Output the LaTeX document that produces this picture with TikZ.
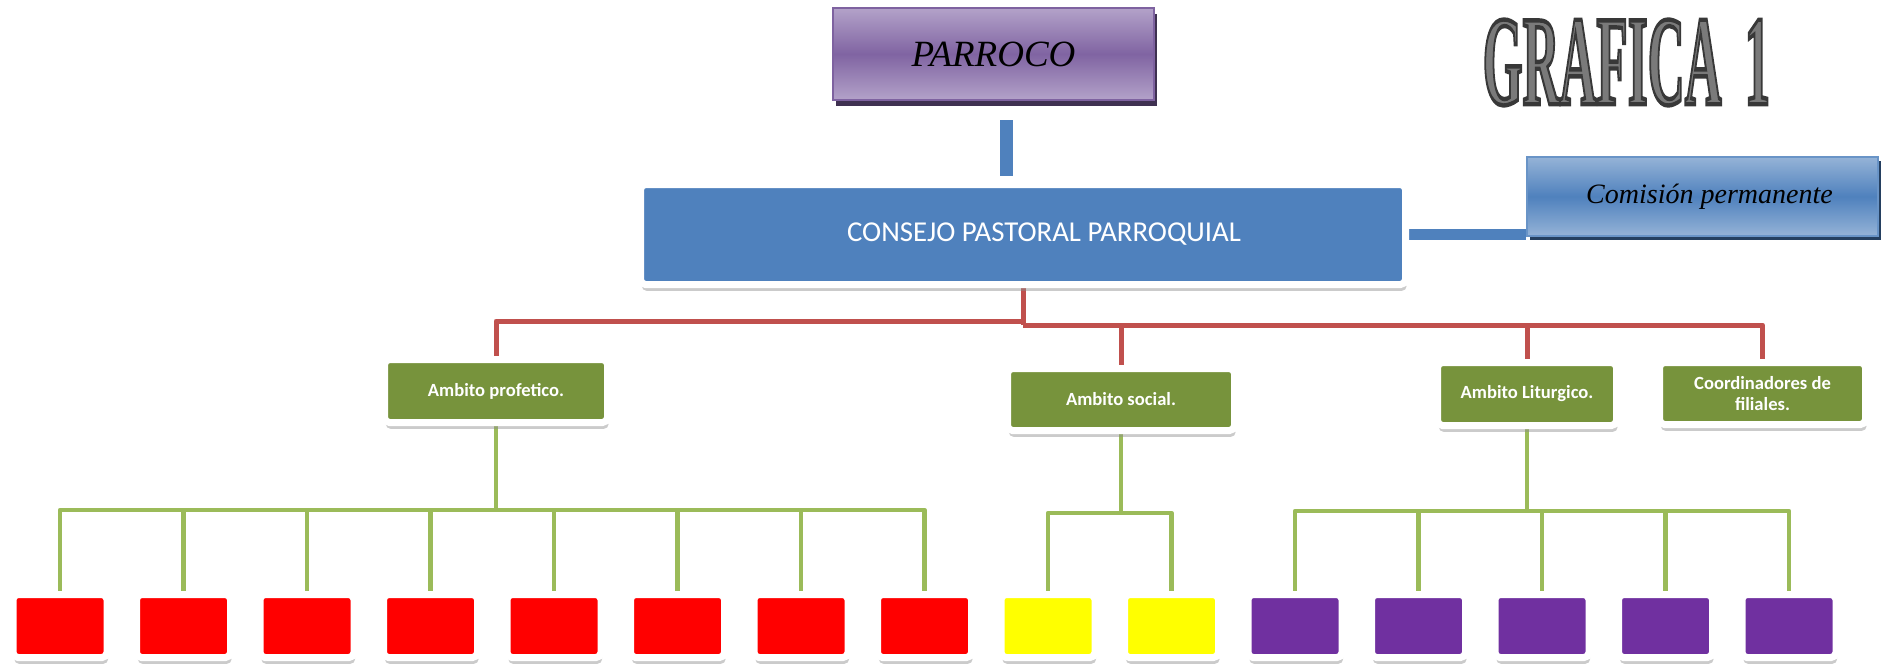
\documentclass[tikz,border=0pt]{standalone}
\usepackage{fontspec}
\setmainfont{Liberation Serif}
\newfontfamily\calib{Carlito}
\usetikzlibrary{shadows,calc}
\pgfdeclarelayer{background}
\pgfsetlayers{background,main}
\definecolor{conblue}{HTML}{4F81BD}
\definecolor{plight}{HTML}{B3A2C9}
\definecolor{pdark}{HTML}{8064A2}
\definecolor{pborder}{HTML}{7E62A0}
\definecolor{pshad}{HTML}{3F3151}
\definecolor{blight}{HTML}{95B3D7}
\definecolor{bshad}{HTML}{243F60}
\definecolor{redline}{HTML}{C0504D}
\definecolor{greenline}{HTML}{9BBB59}
\definecolor{ambgreen}{HTML}{77933C}
\definecolor{leafred}{HTML}{FF0000}
\definecolor{leafyellow}{HTML}{FFFF00}
\definecolor{leafpurple}{HTML}{7030A0}
\newcommand\grafxtext{\scalebox{0.40}[1]{\fontsize{64}{64}\selectfont\bfseries
  \special{pdf:literal direct 2 Tr 2.2 w 0.22 G}GRAFICA\hspace{0.45em}1\special{pdf:literal direct 0 Tr 1 w}}}
\begin{document}
\begin{tikzpicture}[x=0.5pt,y=-0.5pt,
  whitebox/.style={rectangle, rounded corners=2.5pt, draw=white, line width=3.5pt, inner sep=0pt,
    drop shadow={shadow xshift=0.6pt, shadow yshift=-3.2pt, fill=black!45, opacity=0.45}},
  leafbox/.style={whitebox, minimum width=47pt, minimum height=31.5pt},
  ambbox/.style={whitebox, fill=ambgreen, text=white, align=center,
    font=\calib\bfseries\fontsize{9.3}{10.5}\selectfont, minimum height=31.5pt},
  redl/.style={draw=redline, line width=2.5pt, line join=round},
  greenl/.style={draw=greenline, line width=2.3pt, line join=round},
  bluel/.style={draw=conblue}
]
\useasboundingbox (0,0) rectangle (1881,666);

% GRAFICA 1
\node[inner sep=0pt, text=black!52] (grafica) at (1626.5,62.5) {\grafxtext};

% PARROCO
\node[rectangle, draw=pborder, line width=0.8pt, shade, top color=plight, bottom color=plight,
  middle color=pdark, minimum width=160.5pt, minimum height=46pt, inner sep=0pt,
  font=\itshape\fontsize{18.5}{20}\selectfont,
  drop shadow={shadow xshift=1.3pt, shadow yshift=-3pt, fill=pshad, opacity=1}]
  (parroco) at (993.5,54) {PARROCO\hspace{11pt}};

% Comision permanente
\node[rectangle, draw=conblue!85!white, line width=0.8pt, shade, top color=blight, bottom color=blight,
  middle color=conblue, minimum width=175.5pt, minimum height=39.5pt, inner sep=0pt,
  font=\itshape\fontsize{14}{16}\selectfont,
  drop shadow={shadow xshift=1.5pt, shadow yshift=-2pt, fill=bshad, opacity=1}]
  (comision) at (1702.5,196.5) {\hspace{7pt}Comisión permanente};

% Consejo
\node[whitebox, fill=conblue, text=white, minimum width=382.5pt, minimum height=50pt,
  font=\calib\fontsize{14.4}{16}\selectfont]
  (consejo) at (1023,234.5) {\hspace{21pt}CONSEJO PASTORAL PARROQUIAL};

% Ambitos
\node[ambbox, minimum width=111.5pt] (prof) at (496,391) {Ambito profetico.};
\node[ambbox, minimum width=113.5pt, minimum height=31pt] (social) at (1121,399.5) {Ambito social.};
\node[ambbox, minimum width=89.5pt] (litur) at (1527,394) {Ambito Liturgico.};
\node[ambbox, minimum width=103pt, minimum height=31pt] (coord) at (1762.5,393.5) {Coordinadores de\\filiales.};

% Leaves
\foreach \i in {1,...,8}{
  \node[leafbox, fill=leafred] (r\i) at ({60+123.5*(\i-1)},626) {};
}
\foreach \i in {1,2}{
  \node[leafbox, fill=leafyellow] (y\i) at ({60+123.5*(\i+7)},626) {};
}
\foreach \i in {1,...,5}{
  \node[leafbox, fill=leafpurple] (p\i) at ({60+123.5*(\i+9)},626) {};
}

% connectors
\coordinate (bt) at (1006.5,120);
\coordinate (bb) at (1006.5,176);
\coordinate (rl) at (1023,321);
\coordinate (rr) at (1023,325);
\coordinate (pb) at (496,510);
\coordinate (sb) at (1121,513);
\coordinate (lb) at (1527,511);

\begin{pgfonlayer}{background}
  \draw[bluel, line width=6.5pt] (bt) -- (bb);
  \draw[bluel, line width=5.5pt] (consejo.east) -- (consejo.east -| comision.west);
  \draw[redl] (consejo.south) -- (rr);
  \draw[redl] (prof.north) |- (rl);
  \draw[redl] (social.north) |- (rr);
  \draw[redl] (litur.north) |- (rr);
  \draw[redl] (coord.north) |- (rr);
  \draw[greenl] (prof.south) -- (pb);
  \foreach \i in {1,...,8}{ \draw[greenl] (r\i.north) |- (pb); }
  \draw[greenl] (social.south) -- (sb);
  \foreach \i in {1,2}{ \draw[greenl] (y\i.north) |- (sb); }
  \draw[greenl] (litur.south) -- (lb);
  \foreach \i in {1,...,5}{ \draw[greenl] (p\i.north) |- (lb); }
\end{pgfonlayer}
\end{tikzpicture}
\end{document}
